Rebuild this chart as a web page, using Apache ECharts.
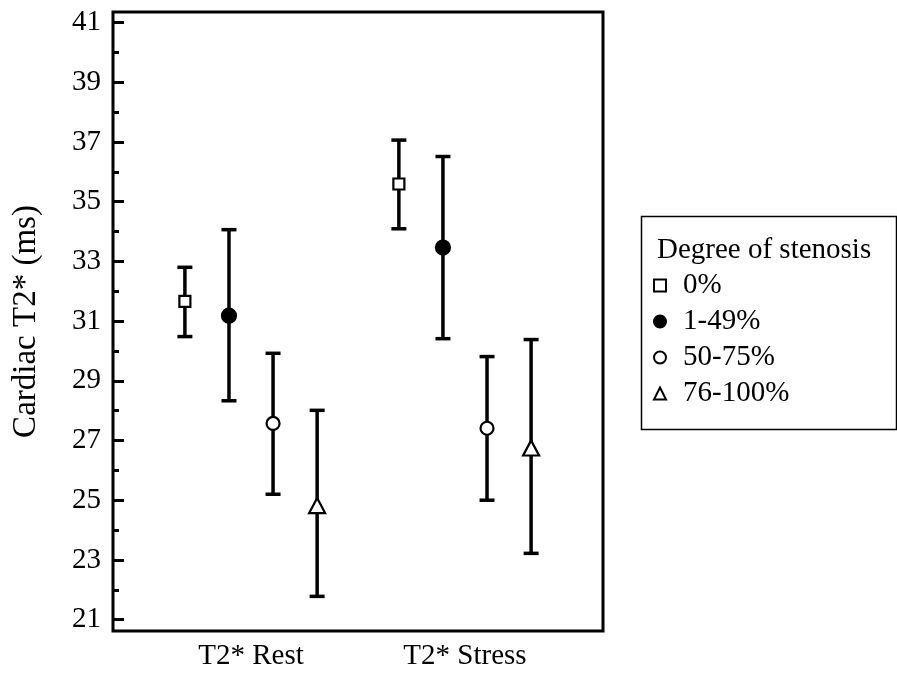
<!DOCTYPE html>
<html>
<head>
<meta charset="utf-8">
<script src="https://cdn.jsdelivr.net/npm/echarts@6/dist/echarts.min.js"></script>
<style>
  html, body { margin: 0; padding: 0; background: #fff; }
  #chart { width: 897px; height: 674px; }
</style>
</head>
<body>
<div id="chart"></div>
<script>
const groups = ["T2* Rest", "T2* Stress"];
const stenosis = ["0%", "1-49%", "50-75%", "76-100%"];

// mean, lower and upper end of each bar, per stenosis group: [Rest, Stress]
const meanValues = [
    [31.66, 35.59],
    [31.18, 33.46],
    [27.57, 27.41],
    [24.82, 26.75]
];
const lowerValues = [
    [30.48, 34.09],
    [28.33, 30.41],
    [25.20, 25.00],
    [21.78, 23.22]
];
const upperValues = [
    [32.80, 37.06],
    [34.06, 36.51],
    [29.92, 29.81],
    [28.01, 30.38]
];

const majorTicks = [21, 23, 25, 27, 29, 31, 33, 35, 37, 39, 41];
const minorTicks = [22, 24, 26, 28, 30, 32, 34, 36, 38, 40];

const FONT = "Liberation Serif";
const spacing = 0.206;

const symbols = [
    { symbol: "rect", size: 11, fill: "#fff" },
    { symbol: "circle", size: 14, fill: "#000" },
    { symbol: "circle", size: 13, fill: "#fff" },
    { symbol: "triangle", size: [16, 15], fill: "#fff" }
];

function xPos(groupIdx, seriesIdx){
    return groupIdx + (seriesIdx - 1.5) * spacing;
}

const barData = [];
stenosis.forEach((name, s) => {
    groups.forEach((g, gi) => {
        barData.push([xPos(gi, s), lowerValues[s][gi], upperValues[s][gi]]);
    });
});

function renderErrorBar(params, api){

    const x = api.value(0);
    const top = api.coord([x, api.value(2)]);
    const bottom = api.coord([x, api.value(1)]);
    const half = 7.5;
    const style = { stroke: "#000", lineWidth: 3.5 };

    return {
        type: "group",
        children: [
            { type: "line", shape: { x1: top[0], y1: top[1], x2: bottom[0], y2: bottom[1] }, style: style },
            { type: "line", shape: { x1: top[0] - half, y1: top[1], x2: top[0] + half, y2: top[1] }, style: style },
            { type: "line", shape: { x1: bottom[0] - half, y1: bottom[1], x2: bottom[0] + half, y2: bottom[1] }, style: style }
        ]
    };
}

const series = [
    {
        type: "custom",
        renderItem: renderErrorBar,
        data: barData,
        z: 1,
        silent: true
    }
];

stenosis.forEach((name, s) => {
    series.push({
        name: name,
        type: "scatter",
        symbol: symbols[s].symbol,
        symbolSize: symbols[s].size,
        itemStyle: {
            color: symbols[s].fill,
            borderColor: "#000",
            borderWidth: 2.2,
            opacity: 1
        },
        z: 5,
        data: groups.map((g, gi) => [xPos(gi, s), meanValues[s][gi]])
    });
});

const yBase = {
    type: "value",
    min: 20.62,
    max: 41.35,
    position: "left",
    splitLine: { show: false },
    axisLine: { show: false, onZero: false }
};

const chart = echarts.init(document.getElementById("chart"));

chart.setOption({

    animation: false,

    grid: {
        left: 113,
        right: 294,
        top: 12,
        bottom: 43,
        show: true,
        borderColor: "#000",
        borderWidth: 3,
        backgroundColor: "transparent"
    },

    title: {
        text: "Degree of stenosis",
        left: 657,
        top: 236,
        padding: 0,
        textStyle: {
            fontFamily: FONT,
            fontSize: 29,
            fontWeight: "normal",
            color: "#000"
        }
    },

    legend: {
        data: stenosis,
        orient: "vertical",
        left: 653,
        top: 271,
        padding: 0,
        itemGap: 7,
        itemWidth: 12,
        itemHeight: 12,
        textStyle: {
            fontFamily: FONT,
            fontSize: 29,
            lineHeight: 29,
            color: "#000",
            padding: [0, 0, 0, 12]
        }
    },

    graphic: [
        {
            type: "rect",
            left: 639,
            top: 214,
            shape: { width: 255, height: 213 },
            style: { fill: "none", stroke: "#000", lineWidth: 1.5 }
        }
    ],

    xAxis: {
        type: "value",
        min: -0.645,
        max: 1.645,
        splitLine: { show: false },
        axisLine: { show: false, onZero: false },
        axisTick: { show: false },
        axisLabel: {
            customValues: [0, 1],
            formatter: v => groups[Math.round(v)],
            fontFamily: FONT,
            fontSize: 29,
            color: "#000",
            margin: 11
        }
    },

    yAxis: [
        Object.assign({}, yBase, {
            name: "Cardiac T2* (ms)",
            nameLocation: "middle",
            nameRotate: 90,
            nameGap: 70,
            nameTextStyle: {
                fontFamily: FONT,
                fontSize: 33,
                color: "#000"
            },
            axisTick: {
                show: true,
                inside: true,
                length: 11,
                customValues: majorTicks,
                lineStyle: { color: "#000", width: 3 }
            },
            axisLabel: {
                customValues: majorTicks,
                fontFamily: FONT,
                fontSize: 29,
                color: "#000",
                margin: 12
            }
        }),
        Object.assign({}, yBase, {
            axisTick: {
                show: true,
                inside: true,
                length: 6,
                customValues: minorTicks,
                lineStyle: { color: "#000", width: 3 }
            },
            axisLabel: { show: false }
        })
    ],

    series: series
});
</script>
</body>
</html>
